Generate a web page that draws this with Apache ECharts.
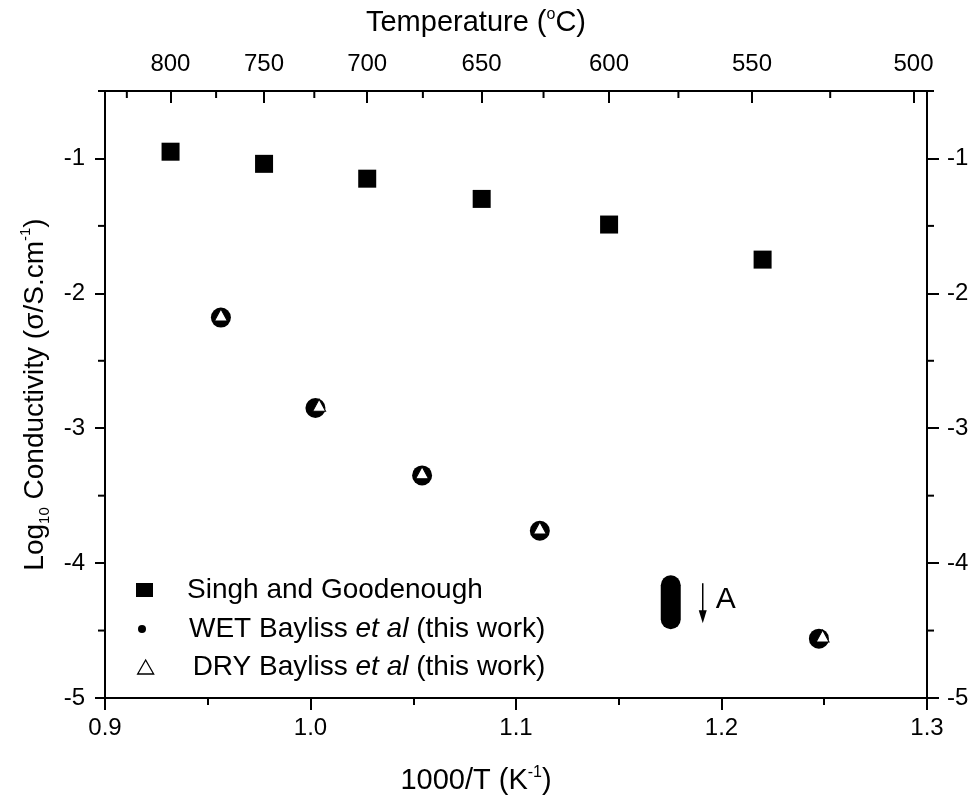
<!DOCTYPE html>
<html>
<head>
<meta charset="utf-8">
<script src="https://cdn.jsdelivr.net/npm/echarts@6/dist/echarts.min.js"></script>
<style>html,body{margin:0;padding:0;background:#fff}#c{width:976px;height:805px}</style>
</head>
<body>
<div id="c"></div>
<script>
// ---- data ----
var singhX = [0.9319, 0.9774, 1.0276, 1.0833, 1.1453, 1.2200];
var singhY = [-0.95, -1.04, -1.15, -1.30, -1.49, -1.75];
var wetX = [0.9564, 1.0024, 1.0543, 1.1116, 1.2474];
var wetY = [-2.18, -2.85, -3.35, -3.76, -4.56];
var dryX = [0.9564, 1.0042, 1.0543, 1.1116, 1.2492];
var dryY = [-2.16, -2.83, -3.33, -3.74, -4.54];
var xTicks = [0.9, 1.0, 1.1, 1.2, 1.3];
var yMajorTicks = [-5, -4, -3, -2, -1];
var yMinorTicks = [-4.5, -3.5, -2.5, -1.5, -0.5];
var topMajorTemps = [800, 750, 700, 650, 600, 550, 500];
var topMinorTemps = [825, 775, 725, 675, 625, 575, 525];
var annotationPoint = [1.1753, -4.29];

var xMin = 0.9, xMax = 1.3, yMin = -5, yMax = -0.5;
var NARROW = "'Liberation Sans Narrow', 'Arial Narrow', 'Liberation Sans', Arial, sans-serif";
var SANS = "'Liberation Sans', Arial, sans-serif";
function invT(t) { return 1000 / (t + 273.15); }
function pairs(xs, ys) { return xs.map(function (x, i) { return [x, ys[i]]; }); }

var chart = echarts.init(document.getElementById('c'));
var lineStyle = { color: '#000', width: 2 };

function legendFor(name, icon, w, h, left, top, spacer, label, itemStyle) {
  return {
    data: [{ name: name, icon: icon, itemStyle: itemStyle }],
    left: left, top: top, padding: 0, itemWidth: w, itemHeight: h,
    selectedMode: false, orient: 'vertical',
    formatter: function () { return label; },
    textStyle: {
      fontFamily: SANS, fontSize: 28, color: '#000', lineHeight: 32,
      rich: {
        sp: { width: spacer },
        n: { fontFamily: SANS, fontSize: 28, color: '#000', lineHeight: 32 },
        i: { fontFamily: SANS, fontSize: 28, color: '#000', fontStyle: 'italic', lineHeight: 32 }
      }
    }
  };
}

var option = {
  animation: false,
  backgroundColor: '#fff',
  grid: { left: 105, right: 49, top: 91, bottom: 107, containLabel: false, outerBoundsMode: 'none' },
  xAxis: [
    {
      type: 'value', position: 'bottom', min: xMin, max: xMax, interval: 0.1,
      axisLine: { show: true, onZero: false, lineStyle: lineStyle },
      axisTick: { show: true, inside: false, length: 12, lineStyle: lineStyle },
      minorTick: { show: true, splitNumber: 2, length: 7, lineStyle: lineStyle },
      splitLine: { show: false }, minorSplitLine: { show: false },
      axisLabel: { color: '#000', fontFamily: NARROW, fontSize: 24, margin: 18,
        formatter: function (v) { return v.toFixed(1); } },
      name: '1000/T (K{sup|-1})', nameLocation: 'middle', nameGap: 67,
      nameTextStyle: { color: '#000', fontFamily: NARROW, fontSize: 29, lineHeight: 32, padding: [0, 80, 0, 0],
        rich: { sup: { fontFamily: NARROW, fontSize: 16, verticalAlign: 'top', color: '#000', lineHeight: 32 } } }
    },
    {
      type: 'value', position: 'top', min: xMin, max: xMax,
      axisLine: { show: true, onZero: false, lineStyle: lineStyle },
      axisTick: { show: true, inside: true, length: 12, lineStyle: lineStyle,
        customValues: topMajorTemps.map(invT) },
      splitLine: { show: false },
      axisLabel: { color: '#000', fontFamily: NARROW, fontSize: 24, margin: 15,
        customValues: topMajorTemps.map(invT),
        formatter: function (v) { return String(Math.round(1000 / v - 273.15)); } },
      name: 'Temperature ({sup|o}C)', nameLocation: 'middle', nameGap: 52,
      nameTextStyle: { color: '#000', fontFamily: NARROW, fontSize: 29, lineHeight: 32, padding: [0, 80, 0, 0],
        rich: { sup: { fontFamily: NARROW, fontSize: 16, verticalAlign: 'top', color: '#000', lineHeight: 32 } } }
    }
  ],
  yAxis: [
    {
      type: 'value', position: 'left', min: yMin, max: yMax,
      axisLine: { show: true, onZero: false, lineStyle: lineStyle },
      axisTick: { show: true, inside: false, length: 10, lineStyle: lineStyle, customValues: yMajorTicks },
      splitLine: { show: false },
      axisLabel: { color: '#000', fontFamily: NARROW, fontSize: 24, margin: 20, customValues: yMajorTicks,
        formatter: function (v) { return String(v); } },
      name: 'Log{sub|10} Conductivity (σ/S.cm{sup|-1})', nameLocation: 'middle', nameGap: 53,
      nameTextStyle: { color: '#000', fontFamily: NARROW, fontSize: 28, lineHeight: 34,
        rich: {
          sub: { fontFamily: NARROW, fontSize: 15, verticalAlign: 'bottom', color: '#000', lineHeight: 34 },
          sup: { fontFamily: NARROW, fontSize: 15, verticalAlign: 'top', color: '#000', lineHeight: 34 }
        } }
    },
    {
      type: 'value', position: 'right', min: yMin, max: yMax,
      axisLine: { show: true, onZero: false, lineStyle: lineStyle },
      axisTick: { show: true, inside: false, length: 12, lineStyle: lineStyle, customValues: yMajorTicks },
      splitLine: { show: false },
      axisLabel: { color: '#000', fontFamily: NARROW, fontSize: 24, margin: 20, customValues: yMajorTicks,
        formatter: function (v) { return String(v); } }
    }
  ],
  legend: [
    legendFor('Singh and Goodenough', 'rect', 17, 14, 136, 574, 29,
      '{sp|}{n|Singh and Goodenough}', { color: '#000', opacity: 1 }),
    legendFor('WET Bayliss et al (this work)', 'circle', 8, 8, 138, 613, 38,
      '{sp|}{n|WET Bayliss }{i|et al}{n| (this work)}', { color: '#000', opacity: 1 }),
    legendFor('DRY Bayliss et al (this work)', 'triangle', 16, 14, 137, 651, 34,
      '{sp|}{n|DRY Bayliss }{i|et al}{n| (this work)}', { color: '#fff', borderColor: '#000', borderWidth: 1.3, opacity: 1 })
  ],
  series: [
    {
      name: 'Singh and Goodenough', type: 'scatter', xAxisIndex: 0, yAxisIndex: 0,
      symbol: 'rect', symbolSize: [18, 18], itemStyle: { color: '#000', opacity: 1 },
      data: pairs(singhX, singhY), z: 3
    },
    {
      name: 'WET Bayliss et al (this work)', type: 'scatter', xAxisIndex: 0, yAxisIndex: 0,
      symbol: 'circle', symbolSize: 20, itemStyle: { color: '#000', opacity: 1 },
      data: pairs(wetX, wetY), z: 3
    },
    {
      name: 'DRY Bayliss et al (this work)', type: 'scatter', xAxisIndex: 0, yAxisIndex: 0,
      symbol: 'triangle', symbolSize: [13, 12], itemStyle: { color: '#fff', borderColor: '#000', borderWidth: 1, opacity: 1 },
      data: pairs(dryX, dryY), z: 4
    },
    {
      name: 'yMinor', type: 'custom', xAxisIndex: 0, yAxisIndex: 0, clip: false, silent: true, z: 5,
      data: yMinorTicks.map(function (v) { return [xMin, v]; }),
      renderItem: function (params, api) {
        var v = api.value(1);
        var L = api.coord([xMin, v]), R = api.coord([xMax, v]);
        return { type: 'group', children: [
          { type: 'line', shape: { x1: L[0] - 7, y1: L[1], x2: L[0], y2: L[1] }, style: { stroke: '#000', lineWidth: 2 } },
          { type: 'line', shape: { x1: R[0], y1: R[1], x2: R[0] + 7, y2: R[1] }, style: { stroke: '#000', lineWidth: 2 } }
        ] };
      }
    },
    {
      name: 'topMinor', type: 'custom', xAxisIndex: 1, yAxisIndex: 0, clip: false, silent: true, z: 5,
      data: topMinorTemps.map(function (t) { return [invT(t), yMax]; }),
      renderItem: function (params, api) {
        var p = api.coord([api.value(0), api.value(1)]);
        return { type: 'line', shape: { x1: p[0], y1: p[1], x2: p[0], y2: p[1] + 7 }, style: { stroke: '#000', lineWidth: 2 } };
      }
    },
    {
      name: 'annotation', type: 'custom', xAxisIndex: 0, yAxisIndex: 0, clip: false, silent: true, z: 5,
      data: [annotationPoint],
      renderItem: function (params, api) {
        var p = api.coord([api.value(0), api.value(1)]);
        var ax = p[0] + 32;
        return { type: 'group', children: [
          { type: 'rect', shape: { x: p[0] - 10, y: p[1] - 27, width: 20, height: 54, r: 10 }, style: { fill: '#000' } },
          { type: 'line', shape: { x1: ax, y1: p[1] - 19, x2: ax, y2: p[1] + 12 }, style: { stroke: '#000', lineWidth: 1.5 } },
          { type: 'polygon', shape: { points: [[ax - 4, p[1] + 8], [ax + 4, p[1] + 8], [ax, p[1] + 21]] }, style: { fill: '#000' } },
          { type: 'text', x: p[0] + 45, y: p[1] - 2, style: { text: 'A', fontFamily: SANS, fontSize: 30, fill: '#000', verticalAlign: 'middle', align: 'left' } }
        ] };
      }
    }
  ]
};
chart.setOption(option);
</script>
</body>
</html>
